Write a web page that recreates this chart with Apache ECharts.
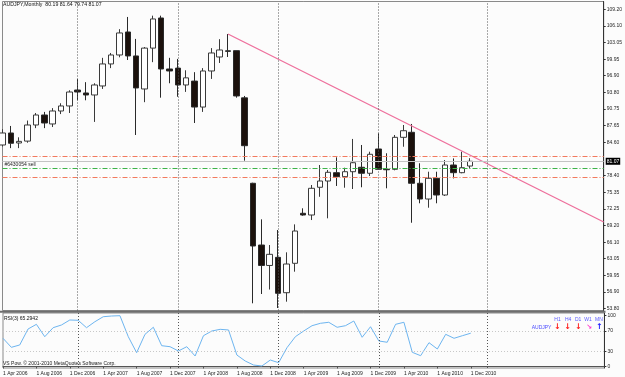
<!DOCTYPE html>
<html><head><meta charset="utf-8">
<script src="https://cdn.jsdelivr.net/npm/echarts@6/dist/echarts.min.js"></script>
<style>html,body{margin:0;padding:0;background:#ffffff}#c{width:625px;height:377px}</style>
</head><body><div id="c"></div>
<script>
const months = ['1 Apr 2006','1 May 2006','1 Jun 2006','1 Jul 2006','1 Aug 2006','1 Sep 2006','1 Oct 2006','1 Nov 2006','1 Dec 2006',
'1 Jan 2007','1 Feb 2007','1 Mar 2007','1 Apr 2007','1 May 2007','1 Jun 2007','1 Jul 2007','1 Aug 2007','1 Sep 2007','1 Oct 2007','1 Nov 2007','1 Dec 2007',
'1 Jan 2008','1 Feb 2008','1 Mar 2008','1 Apr 2008','1 May 2008','1 Jun 2008','1 Jul 2008','1 Aug 2008','1 Sep 2008','1 Oct 2008','1 Nov 2008','1 Dec 2008',
'1 Jan 2009','1 Feb 2009','1 Mar 2009','1 Apr 2009','1 May 2009','1 Jun 2009','1 Jul 2009','1 Aug 2009','1 Sep 2009','1 Oct 2009','1 Nov 2009','1 Dec 2009',
'1 Jan 2010','1 Feb 2010','1 Mar 2010','1 Apr 2010','1 May 2010','1 Jun 2010','1 Jul 2010','1 Aug 2010','1 Sep 2010','1 Oct 2010','1 Nov 2010','1 Dec 2010',
'1 Jan 2011','1 Feb 2011','1 Mar 2011','1 Apr 2011','1 May 2011','1 Jun 2011','1 Jul 2011','1 Aug 2011','1 Sep 2011','1 Oct 2011','1 Nov 2011','1 Dec 2011',
'1 Jan 2012','1 Feb 2012','1 Mar 2012','1 Apr 2012'];

const openP = [84.08,86.30,84.45,84.80,87.78,89.63,87.97,90.37,91.30,94.25,
93.70,93.33,95.00,99.07,100.73,104.98,100.55,94.44,102.00,107.57,
98.14,98.30,95.18,95.90,91.10,97.77,100.36,101.50,101.53,92.80,
77.00,65.58,61.80,63.30,56.76,62.20,71.45,71.13,76.26,77.42,
78.96,78.22,79.14,79.96,78.85,83.34,79.60,79.58,85.50,86.43,
77.00,74.09,77.92,74.83,80.38,78.96,80.19];
const highP = [87.0,87.6,85.5,88.6,90.0,90.2,90.9,91.8,94.2,96.3,
95.7,95.5,100.2,101.1,105.5,107.76,103.7,102.2,108.0,108.0,
100.2,100.0,97.9,97.55,98.3,102.0,103.65,104.61,101.53,93.15,
77.1,70.33,65.58,68.36,64.23,69.4,72.37,76.68,80.38,79.46,
81.8,79.88,85.2,84.08,82.84,86.24,82.55,85.93,87.78,87.97,
80.7,79.14,79.14,81.3,81.6,82.84,81.64];
const lowP = [83.8,83.5,83.5,84.5,87.2,87.2,87.4,89.8,90.0,92.35,
92.35,88.35,94.45,98.3,100.3,99.8,85.93,92.0,99.4,92.83,
95.5,93.0,93.9,88.15,90.2,96.3,99.25,100.36,92.83,81.18,
54.8,56.52,57.35,53.93,55.1,60.65,71.0,70.2,74.5,70.52,
76.5,76.18,75.94,76.26,78.35,79.5,76.07,79.4,83.76,69.7,
73.3,72.48,73.3,74.65,77.9,78.85,79.74];
const closeP = [86.30,84.40,84.75,87.78,89.63,88.15,90.37,91.30,93.88,93.88,
93.33,95.18,99.07,100.73,104.80,100.55,94.63,102.00,107.39,98.14,
97.77,95.18,96.50,91.10,97.77,101.10,101.65,101.40,93.15,83.95,
65.40,61.80,63.86,56.65,62.07,68.17,71.13,76.07,77.42,79.03,
78.22,79.14,80.80,78.85,82.36,79.58,79.50,85.50,86.72,77.00,
74.09,77.92,74.83,80.38,78.96,79.88,81.07];

const rsi3 = [55.3,37.6,42.2,73.5,82.7,58.4,76.1,81.4,91.2,90.6,
76.1,87.8,97.6,99.0,99.6,58.4,27.1,63.1,76.9,40.8,
38.8,30.4,38.8,20.6,60.4,69.6,72.9,71.6,22.5,10.8,
2.9,1.0,12.7,7.5,36.9,58.4,69.6,80.0,84.7,86.7,
76.9,80.0,89.2,57.3,78.0,50.0,47.5,82.7,86.7,27.8,
21.2,46.7,34.3,63.1,55.3,60.4,65.29];

const priceTicks = [53.80,56.90,59.95,63.05,66.10,69.20,72.25,75.35,78.40,84.60,87.65,90.75,93.80,96.90,99.95,103.05,106.10,109.20];
const rsiTicks = [0,30,70,100];
const rsiLevels = [30,70];
const separators = [9,21,33,45,58];
const trendLine = [[27,104.61],[72,69.84]];
const bidPrice = 81.07;
const stopLoss = 82.01;
const orderOpen = 79.73;
const takeProfit = 78.10;
const header = 'AUDJPY,Monthly  80.19 81.64 79.74 81.07';
const rsiTitle = 'RSI(3) 65.2942';
const orderLabel = '#6430054 sell';

const F = 'Liberation Sans, Arial, sans-serif';
const candles = openP.map((o,i)=>[o, closeP[i], lowP[i], highP[i]]);
const showLab = (i)=> i % 4 === 0 && i <= 56;

const chart = echarts.init(document.getElementById('c'), null, {renderer:'canvas'});
const sepLines = separators.map(i=>({xAxis:i}));

chart.setOption({
  animation:false,
  backgroundColor:'#fcfcfc',
  grid:[
    {left:2.5, right:20.6, top:1.5, height:309, show:true, borderColor:'#8a8a8a', borderWidth:1, backgroundColor:'#fcfcfc'},
    {left:2.5, right:20.6, top:313, height:55, show:true, borderColor:'#8a8a8a', borderWidth:1, backgroundColor:'#fcfcfc'}
  ],
  xAxis:[
    {type:'category', gridIndex:0, data:months, boundaryGap:false,
     axisLine:{show:false}, axisTick:{show:false}, axisLabel:{show:false}, splitLine:{show:false}},
    {type:'category', gridIndex:1, data:months, boundaryGap:false,
     axisLine:{show:true, lineStyle:{color:'#555'}},
     axisTick:{show:true, length:2, interval:showLab, lineStyle:{color:'#555'}},
     axisLabel:{show:true, interval:showLab, align:'left', fontSize:5, fontFamily:F, color:'#222', margin:3},
     splitLine:{show:false}}
  ],
  yAxis:[
    {type:'value', gridIndex:0, position:'right', min:53.47, max:110.62, scale:true,
     axisLine:{show:true, lineStyle:{color:'#333'}},
     axisTick:{show:true, length:2, customValues:priceTicks, lineStyle:{color:'#333'}},
     axisLabel:{show:true, customValues:priceTicks, formatter:v=>v.toFixed(2), fontSize:5, fontFamily:F, color:'#222', margin:3},
     splitLine:{show:false}},
    {type:'value', gridIndex:1, position:'right', min:-2.94, max:104.9,
     axisLine:{show:true, lineStyle:{color:'#333'}},
     axisTick:{show:true, length:2, customValues:rsiTicks, lineStyle:{color:'#333'}},
     axisLabel:{show:true, customValues:rsiTicks, formatter:v=>String(v), fontSize:5, fontFamily:F, color:'#222', margin:3},
     splitLine:{show:false}}
  ],
  series:[
    {type:'candlestick', xAxisIndex:0, yAxisIndex:0, data:candles, barWidth:6, clip:false,
     itemStyle:{color:'#ffffff', color0:'#1b110c', borderColor:'#3a3a3a', borderColor0:'#2a2a2a', borderWidth:1},
     markLine:{silent:true, symbol:'none', animation:false,
       data:[
         {yAxis:stopLoss, lineStyle:{color:'#f27a5e', type:[5,2,1,2], width:1}, label:{show:false}},
         {yAxis:takeProfit, lineStyle:{color:'#f27a5e', type:[5,2,1,2], width:1}, label:{show:false}},
         {yAxis:bidPrice, lineStyle:{color:'#c4c4c4', type:'solid', width:1},
          label:{show:true, position:'end', distance:2, formatter:bidPrice.toFixed(2), backgroundColor:'#000', color:'#fff', fontSize:5, fontFamily:F, padding:[1,1,1,1]}},
         {yAxis:orderOpen, lineStyle:{color:'#3cb449', type:[5,2,1,2], width:1},
          label:{show:true, position:'insideStartTop', distance:1, formatter:orderLabel, backgroundColor:'#fcfcfc', color:'#222', fontSize:5, fontFamily:F, padding:[0,1,0,1]}},
       ].concat(separators.map(i=>({xAxis:i, lineStyle:{color:'#555', type:[1,2], width:1}, label:{show:false}})))
     }},
    {type:'line', xAxisIndex:0, yAxisIndex:0, data:trendLine, symbol:'none', silent:true,
     lineStyle:{color:'#ee6f9c', width:1.3}},
    {type:'line', xAxisIndex:1, yAxisIndex:1, data:rsi3, symbol:'none', silent:true,
     lineStyle:{color:'#6db5f0', width:1},
     markLine:{silent:true, symbol:'none', animation:false,
       data: rsiLevels.map(v=>({yAxis:v, lineStyle:{color:'#c8c8c8', type:[1,2], width:1}, label:{show:false}}))
         .concat(separators.map(i=>({xAxis:i, lineStyle:{color:'#555', type:[1,2], width:1}, label:{show:false}})))
     }}
  ],
  graphic:[
    {type:'rect', shape:{x:0, y:310.8, width:605.5, height:2}, style:{fill:'#6e6e6e'}, silent:true, z:100},
    {type:'text', x:3, y:5, style:{text:header, fill:'#111', font:'5.2px '+F, verticalAlign:'middle'}, z:100},
    {type:'text', x:4, y:318.5, style:{text:rsiTitle, fill:'#111', font:'5px '+F, verticalAlign:'middle'}, z:100},
    {type:'text', x:3, y:363.5, style:{text:'VS Pow. © 2001-2010 MetaQuotes Software Corp.', fill:'#222', font:'5px '+F, verticalAlign:'middle'}, z:100},
    {type:'text', x:554.3, y:319.3, style:{text:'H1', fill:'#5a5aff', font:'5px '+F, verticalAlign:'middle'}, z:100},
    {type:'text', x:565, y:319.3, style:{text:'H4', fill:'#5a5aff', font:'5px '+F, verticalAlign:'middle'}, z:100},
    {type:'text', x:575, y:319.3, style:{text:'D1', fill:'#5a5aff', font:'5px '+F, verticalAlign:'middle'}, z:100},
    {type:'text', x:584.3, y:319.3, style:{text:'W1', fill:'#5a5aff', font:'5px '+F, verticalAlign:'middle'}, z:100},
    {type:'text', x:595, y:319.3, style:{text:'MN', fill:'#5a5aff', font:'5px '+F, verticalAlign:'middle'}, z:100},
    {type:'text', x:531.7, y:328, style:{text:'AUDJPY', fill:'#4a4aff', font:'5px '+F, verticalAlign:'middle'}, z:100},
    {type:'text', x:557.3, y:327, style:{text:'↓', fill:'#ff1a1a', font:'bold 8px DejaVu Sans', align:'center', verticalAlign:'middle'}, z:100},
    {type:'text', x:567.7, y:327, style:{text:'↓', fill:'#ff1a1a', font:'bold 8px DejaVu Sans', align:'center', verticalAlign:'middle'}, z:100},
    {type:'text', x:578.3, y:327, style:{text:'↓', fill:'#ff1a1a', font:'bold 8px DejaVu Sans', align:'center', verticalAlign:'middle'}, z:100},
    {type:'text', x:589.3, y:327, style:{text:'↘', fill:'#ff33cc', font:'bold 7px DejaVu Sans', align:'center', verticalAlign:'middle'}, z:100},
    {type:'text', x:599.3, y:327, style:{text:'↑', fill:'#1a1aff', font:'bold 8px DejaVu Sans', align:'center', verticalAlign:'middle'}, z:100}
  ]
});
</script>
</body></html>
